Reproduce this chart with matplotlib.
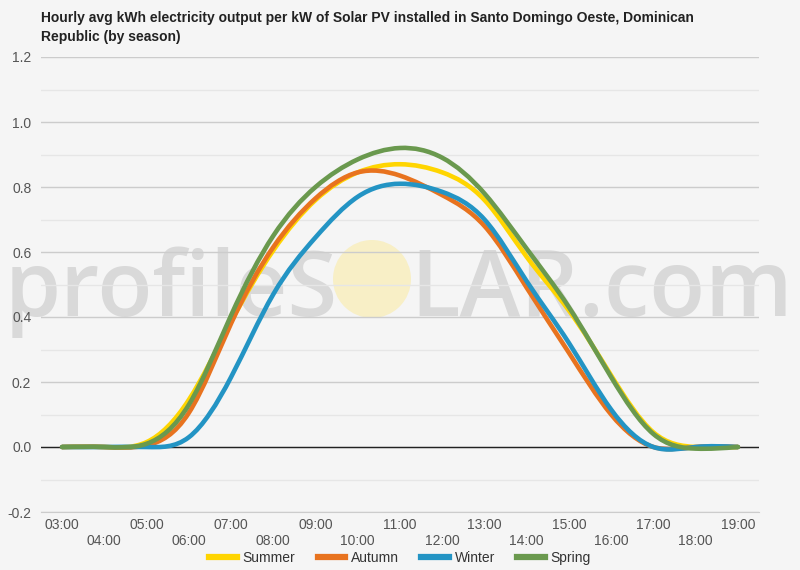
import matplotlib
matplotlib.use("Agg")
import matplotlib.pyplot as plt
import numpy as np
from matplotlib.path import Path
from matplotlib.patches import PathPatch, Circle
from matplotlib.lines import Line2D

plt.rcParams['font.family'] = ['Liberation Sans', 'DejaVu Sans']

hours = ["03:00", "04:00", "05:00", "06:00", "07:00", "08:00", "09:00", "10:00", "11:00",
         "12:00", "13:00", "14:00", "15:00", "16:00", "17:00", "18:00", "19:00"]
summer = [0, 0, 0.015, 0.145, 0.385, 0.605, 0.76, 0.845, 0.87, 0.845, 0.76, 0.585, 0.42, 0.22, 0.045, 0.0, 0.0]
autumn = [0, 0, 0.005, 0.105, 0.38, 0.615, 0.765, 0.845, 0.835, 0.775, 0.68, 0.49, 0.29, 0.10, 0.0, 0.0, 0.0]
winter = [0, 0, 0.0, 0.03, 0.215, 0.47, 0.645, 0.77, 0.81, 0.785, 0.70, 0.51, 0.32, 0.115, 0.0, 0.0, 0.0]
spring = [0, 0, 0.01, 0.13, 0.405, 0.65, 0.80, 0.885, 0.92, 0.89, 0.78, 0.61, 0.43, 0.215, 0.04, -0.005, 0.0]

series = [("Summer", summer, "#ffd500"),
          ("Autumn", autumn, "#e8731f"),
          ("Winter", winter, "#2394c4"),
          ("Spring", spring, "#6a994e")]

title = ("Hourly avg kWh electricity output per kW of Solar PV installed in Santo Domingo Oeste, Dominican\n"
         "Republic (by season)")

bg = "#f5f5f5"


def spline_path(ys):
    # natural cubic spline through the hourly points, drawn as bezier segments
    y = np.asarray(ys, dtype=float)
    n = len(y)
    A = np.zeros((n, n))
    r = np.zeros(n)
    A[0, 0] = A[-1, -1] = 1
    for i in range(1, n - 1):
        A[i, i - 1:i + 2] = [1, 4, 1]
        r[i] = 6 * (y[i + 1] - 2 * y[i] + y[i - 1])
    M = np.linalg.solve(A, r)
    m = np.zeros(n)
    m[:-1] = (y[1:] - y[:-1]) - (2 * M[:-1] + M[1:]) / 6
    m[-1] = (y[-1] - y[-2]) + (M[-2] + 2 * M[-1]) / 6
    verts = [(0, y[0])]
    codes = [Path.MOVETO]
    for i in range(n - 1):
        verts += [(i + 1 / 3, y[i] + m[i] / 3), (i + 2 / 3, y[i + 1] - m[i + 1] / 3), (i + 1, y[i + 1])]
        codes += [Path.CURVE4] * 3
    return Path(verts, codes)


fig = plt.figure(figsize=(8, 5.7), dpi=100, facecolor=bg)
ax = fig.add_axes([41 / 800, 1 - 512 / 570, 718 / 800, 455 / 570])
ax.set_facecolor(bg)

# watermark
ax.text(5 / 800, 1 - 316 / 570, "profileS", transform=fig.transFigure, fontsize=65,
        family="Open Sans", fontweight="semibold", color="#d9d9d9", va="baseline", zorder=0.1)
ax.text(410 / 800, 1 - 316 / 570, "LAR.com", transform=fig.transFigure, fontsize=66,
        family="Open Sans", fontweight="semibold", color="#d9d9d9", va="baseline", zorder=0.1)
circ = Circle((372, 570 - 279), 39, transform=None, facecolor="#f8efc6", edgecolor="none", zorder=0.1)
ax.add_artist(circ)

ax.set_xlim(-0.5, len(hours) - 0.5)
ax.set_ylim(-0.2, 1.2)
ax.set_yticks(np.arange(-0.2, 1.21, 0.2))
ax.set_yticks(np.arange(-0.1, 1.2, 0.2), minor=True)
ax.set_yticklabels(["%.1f" % v for v in np.arange(-0.2, 1.21, 0.2)])
ax.grid(axis="y", which="major", color="#cccccc", lw=1)
ax.grid(axis="y", which="minor", color="#e6e6e6", lw=1)
ax.set_axisbelow(True)
ax.axhline(0, color="#222222", lw=1, zorder=1)

ax.set_xticks(range(len(hours)))
ax.set_xticklabels([h if i % 2 == 0 else "\n" + h for i, h in enumerate(hours)])
ax.tick_params(axis="x", length=0, pad=4, labelsize=10, labelcolor="#555555")
ax.tick_params(axis="y", which="both", length=0, pad=7, labelsize=10, labelcolor="#555555")
for s in ["top", "left", "right"]:
    ax.spines[s].set_visible(False)
ax.spines["bottom"].set_color("#cccccc")

handles = []
for name, vals, col in series:
    patch = PathPatch(spline_path(vals), facecolor="none", edgecolor=col, lw=3.3,
                      capstyle="round", joinstyle="round", zorder=3)
    ax.add_patch(patch)
    handles.append(Line2D([], [], color=col, lw=4.5, label=name))

fig.legend(handles=handles, loc="center", bbox_to_anchor=(0.5, 1 - 558 / 570), ncol=4,
           frameon=False, fontsize=10, handlelength=2.0, handletextpad=0.4,
           columnspacing=1.6, labelcolor="#333333")

fig.text(41 / 800, 1 - 11 / 570, title, fontsize=10, fontweight="bold", color="#222222",
         va="top", ha="left", linespacing=1.45)

fig.savefig("out.png", dpi=100, facecolor=bg)
